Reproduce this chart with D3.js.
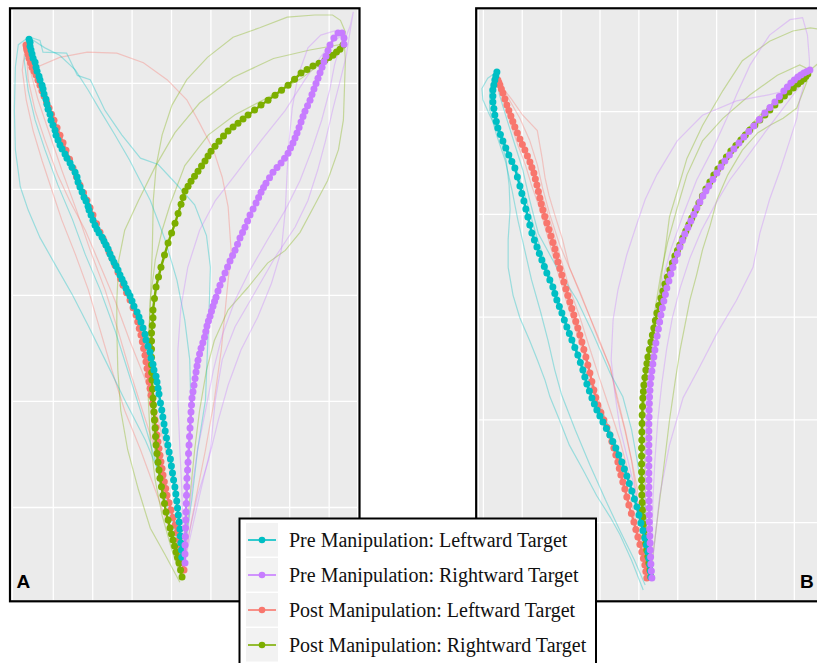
<!DOCTYPE html>
<html>
<head>
<meta charset="utf-8">
<script src="https://cdn.jsdelivr.net/npm/d3@7"></script>
<style>
  body { margin: 0; background: #fff; }
  svg { display: block; }
</style>
</head>
<body>
<svg id="chart" width="817" height="663"></svg>
<script>
// legend order of the four conditions
var conditions = ["Pre Manipulation: Leftward Target", "Pre Manipulation: Rightward Target",
                  "Post Manipulation: Leftward Target", "Post Manipulation: Rightward Target"];
var colors = ["#00BFC4", "#C77CFF", "#F8766D", "#7CAE00"];

// grid breaks (screen px of the recording)
var xBreaksA = [-120, -80, -40, 0, 40, 80, 120, 160];
var yBreaksA = [100, 200, 300, 400, 500];
var xBreaksB = [-160, -120, -80, -40, 0, 40, 80, 120, 160];
var yBreaksB = [100, 200, 300, 400, 500];

// ---- panel A : mean trajectories [x, y], start -> target ----
var meanA_preLeft = [[11,52.7],[10.7,59.4],[10,66],[9.5,72.6],[9,79.2],[8.3,85.8],[7.4,92.4],[6.6,99],[5.8,105.6],[4.9,112.2],[3.9,118.8],[2.6,125.4],[1.5,132],[0.4,138.6],[-0.6,145.2],[-1.9,151.8],[-3.2,158.4],[-4.6,165],[-5.9,171.6],[-7.1,178.2],[-8.3,184.8],[-9.4,191.4],[-10.7,198],[-12.2,206.5],[-13.2,212.1],[-14.2,217.8],[-15.2,223.4],[-17.3,229.1],[-18.3,234.7],[-20.3,240.4],[-21.3,246.1],[-23.3,251.7],[-25.4,257.4],[-26.4,263],[-28.4,268.7],[-30.5,274.4],[-32.5,279.1],[-34.5,283.8],[-37.6,289.4],[-39.6,294.2],[-41.6,298.9],[-43.6,302.6],[-45.7,306.4],[-47.7,311.1],[-49.7,314.9],[-51.8,318.7],[-53.8,323.4],[-55.8,327.2],[-57.9,330.9],[-59.9,334.7],[-61.9,338.5],[-63.9,343.2],[-66,347],[-68,350.7],[-70,354.5],[-73.1,358.3],[-75.1,362],[-77.1,365.8],[-79.2,370.5],[-81.2,375.3],[-83.2,380],[-84.2,383.7],[-86.3,388.5],[-88.3,392.2],[-90.3,397],[-92.4,401.7],[-94.4,406.4],[-95.4,411.1],[-97.4,415.8],[-100.5,420.5],[-102.5,424.3],[-105.6,429],[-107.6,432.8],[-110.6,437.5],[-112.7,441.3],[-114.7,446],[-116.7,450.7],[-117.7,455.4],[-119.8,460.1],[-121.8,464.8],[-122.8,470.5],[-124.8,475.2],[-125.9,479.9],[-126.9,484.6],[-128.9,489.4],[-129.9,494.1],[-130.9,497.8],[-133,502.6],[-134,506.3],[-136,511],[-137,514.8],[-138,519.5],[-140,523.3],[-141.1,527.1],[-142.1,530.9],[-143.1,534.6],[-143.1,538.4],[-144.1,541.2]];

var meanA_preRight = [[14.2,47.1],[14.2,55.6],[14.2,64.1],[14.5,72.1],[14.7,80.1],[15,87.7],[15.2,95.2],[15.5,103.2],[15.7,111.2],[16,119.2],[16.2,127.2],[16.8,134.8],[17.3,142.3],[17.8,150.4],[18.3,158.4],[18.8,166.4],[19.3,174.4],[19.8,182],[20.3,189.5],[20.8,196.1],[21.3,202.7],[22.3,208.8],[23.3,214.9],[24.4,221.1],[25.4,227.2],[26.4,232.9],[27.4,238.5],[29,244.2],[30.5,249.8],[32.3,255],[34,260.2],[35.3,265.4],[36.5,270.6],[38,275.3],[39.6,280],[41.1,284.7],[42.6,289.4],[44.2,293.7],[45.7,297.9],[47.7,303.6],[49.7,309.2],[52.3,314.9],[54.8,320.6],[57.4,326.3],[59.9,331.9],[62.5,337.1],[65,342.2],[67.5,347.9],[70,353.6],[72.6,358.8],[75.1,363.9],[77.7,369.6],[80.2,375.3],[83.3,381],[86.3,386.6],[88.9,391.8],[91.4,396.9],[93.9,401.2],[96.4,405.4],[100,410.6],[103.5,415.8],[107.6,420.1],[111.7,424.3],[115.3,429],[118.8,433.7],[121.3,438.5],[123.8,443.2],[125.9,447.9],[127.9,452.6],[130,457.8],[132,463],[134,468.2],[136,473.3],[138.6,478.5],[141.1,483.7],[143.1,488.9],[145.1,494.1],[147.2,499.3],[149.2,504.4],[151.3,509.6],[153.3,514.8],[155.3,520],[157.3,525.2],[159.4,530.4],[161.4,535.6],[165.4,542.2],[169.5,546.9],[173.6,546.9],[175.6,542.2],[175.6,536.5]];

var meanA_postLeft = [[13.2,40.5],[12.2,47.5],[11.2,54.6],[9.6,61.7],[8.1,68.8],[6.1,75.8],[4.1,82.9],[2,90],[0,97.1],[-2,104.1],[-4.1,111.2],[-5.4,117.5],[-6.8,123.8],[-8.1,130.1],[-9.1,136.4],[-10.2,142.6],[-11.2,148.9],[-12.2,155.2],[-13.2,161.5],[-14.2,167.8],[-15.2,175],[-16.3,182.3],[-17.3,189.5],[-18.8,197.5],[-20.3,205.5],[-21.3,211.8],[-22.3,218.1],[-23.3,224.4],[-24.3,230.7],[-25.4,236.9],[-26.4,243.2],[-27.8,249.5],[-29.1,255.8],[-30.5,262.1],[-32.2,268.4],[-33.8,274.7],[-35.5,281],[-38.5,288],[-41.6,295.1],[-45.1,302.1],[-48.7,309.2],[-51.2,315.3],[-53.8,321.5],[-56.8,328.1],[-59.9,334.7],[-63,340.8],[-66,347],[-69,353.1],[-72.1,359.2],[-75.6,367.2],[-79.2,375.3],[-82.2,382.3],[-85.3,389.4],[-88.8,396.4],[-92.4,403.5],[-96,411.5],[-99.5,419.6],[-103,428],[-106.6,436.5],[-109.6,443.6],[-112.7,450.7],[-115.7,457.7],[-118.8,464.8],[-121.3,470.5],[-123.8,476.2],[-126.3,481.8],[-128.9,487.5],[-131,492.6],[-133,497.8],[-135,502.5],[-137,507.3],[-139,511],[-141.1,514.8],[-142.6,519],[-144.1,523.3],[-145.1,527],[-146.2,530.8],[-146.7,533.2],[-147.2,535.6]];

var meanA_postRight = [[11.2,33.9],[9.7,40.5],[8.1,47.1],[6.6,52.3],[5.1,57.5],[3.6,63.2],[2,68.8],[0.5,74.5],[-1,80.1],[-3,87.7],[-5.1,95.2],[-6.6,103.2],[-8.1,111.2],[-9.7,119.2],[-11.2,127.2],[-12.2,134.8],[-13.2,142.3],[-14.2,150.4],[-15.2,158.4],[-15.7,166.4],[-16.2,174.4],[-16.8,182],[-17.3,189.5],[-17.8,196.1],[-18.3,202.7],[-18.8,211.2],[-19.3,219.7],[-19.6,226.9],[-19.8,234.1],[-19.8,241.3],[-19.8,248.9],[-19.8,256.5],[-19.8,264],[-19,271.2],[-18.3,278.5],[-18.3,285.7],[-16.8,296.6],[-15.2,307.4],[-12.7,316.8],[-10.2,326.2],[-6.6,337.6],[-3,348.9],[0.6,358.3],[4.1,367.7],[7.2,376.7],[10.2,385.6],[12.2,391.8],[14.2,397.9],[17.3,402.6],[20.3,407.3],[23.9,412],[27.4,416.7],[31,421.5],[34.5,426.2],[37.6,430.9],[40.6,435.6],[44.7,440.3],[48.7,445],[53.3,449.8],[57.9,454.5],[63,458.3],[68,462],[73.1,465.8],[78.2,469.6],[84.8,474.3],[91.4,479],[98.5,483.7],[105.6,488.4],[112.2,493.1],[118.8,497.8],[125.4,503.5],[132,509.2],[138.1,512.5],[144.1,515.8],[150.2,518.6],[156.3,521.4],[160.4,523.8],[164.4,526.1],[168,529],[171.5,531.8],[174.6,535.6]];

// ---- panel A : single trials ----
var trialsA_preLeft = [
  [[-146,542],[-155,536],[-158,515],[-159,474],[-158,437],[-153,402],[-145,380],[-133,354],[-116,326],[-100,300],[-84,271],[-67,239],[-47,201],[-26,163],[-11,130],[1,97],[7,69],[12,44]],
  [[-143,543],[-133,540],[-130,529],[-106,528],[-95,507],[-82,503],[-67,474],[-50,451],[-31,429],[-13,423],[4,406],[24,385],[36,356],[40,326],[39,295],[37,248],[35,201],[27,154],[21,106],[15,69],[12,44]],
  [[-143,542],[-128,533],[-113,526],[-97,512],[-84,493],[-72,474],[-57,451],[-42,427],[-21,389],[-6,352],[6,314],[14,276],[19,239],[20,201],[19,163],[17,125],[15,88],[13,59],[12,44]],
  [[-145,538],[-149,521],[-145,493],[-138,465],[-128,437],[-115,404],[-100,371],[-87,338],[-72,305],[-57,267],[-44,229],[-31,191],[-19,154],[-8,116],[2,83],[9,59],[12,44]]
];
var trialsA_preRight = [
  [[13,45],[17,78],[21,116],[27,154],[35,191],[43,229],[52,262],[65,295],[80,323],[98,352],[116,380],[131,408],[143,437],[153,465],[161,493],[166,517],[172,536],[177,545]],
  [[13,45],[19,78],[27,111],[38,144],[48,182],[58,215],[71,248],[88,279],[102,311],[112,342],[116,380],[118,418],[120,446],[123,476],[129,507],[139,533],[152,545],[166,549],[175,544]],
  [[13,45],[12,78],[11,116],[9,154],[7,201],[7,248],[10,288],[17,326],[29,361],[45,389],[65,413],[91,445],[116,474],[136,503],[153,526],[166,540],[174,545]],
  [[13,45],[21,78],[29,111],[40,154],[45,201],[52,239],[65,270],[85,302],[106,336],[126,364],[139,389],[149,418],[157,446],[164,474],[172,503],[178,526],[182,550],[185,567],[182,554],[177,542]]
];
var trialsA_postLeft = [
  [[-147,536],[-143,521],[-133,516],[-113,524],[-85,529],[-55,528],[-28,519],[-4,503],[16,484],[29,462],[43,437],[52,411],[58,383],[61,342],[56,295],[51,248],[44,201],[35,154],[25,107],[18,73],[13,42]],
  [[-148,533],[-151,512],[-147,484],[-140,455],[-131,427],[-121,399],[-111,371],[-97,338],[-84,305],[-72,267],[-60,229],[-47,191],[-31,154],[-16,116],[-3,83],[7,59],[13,42]],
  [[-146,535],[-143,512],[-135,484],[-123,451],[-111,418],[-96,380],[-82,342],[-67,305],[-54,267],[-42,229],[-29,191],[-16,154],[-6,116],[4,83],[10,59],[13,42]],
  [[-147,536],[-145,503],[-138,474],[-128,446],[-115,413],[-103,389],[-87,361],[-72,328],[-57,295],[-42,257],[-26,220],[-13,182],[-3,144],[5,107],[10,73],[13,42]]
];
var trialsA_postRight = [
  [[10,34],[1,59],[-9,92],[-16,125],[-21,163],[-23,201],[-23,248],[-21,295],[-19,342],[-18,389],[-15,422],[-9,451],[1,479],[16,503],[37,524],[63,543],[90,552],[118,562],[146,564],[164,564],[172,559],[177,548],[175,536]],
  [[9,29],[-6,55],[-21,80],[-33,116],[-44,154],[-51,191],[-54,229],[-55,267],[-55,295],[-53,333],[-47,361],[-33,389],[-16,421],[4,453],[29,481],[63,505],[104,523],[141,531],[177,537]],
  [[12,36],[15,69],[19,107],[24,154],[29,191],[36,229],[44,257],[58,286],[78,307],[98,330],[116,342],[131,359],[146,385],[159,408],[170,437],[175,465],[176,493],[177,521],[176,536]],
  [[11,33],[5,59],[-3,88],[-11,121],[-17,158],[-21,201],[-23,248],[-21,295],[-16,333],[-9,361],[-1,385],[14,422],[38,451],[65,470],[98,486],[132,504],[159,523],[174,535]]
];

// ---- panel B : mean trajectories ----
var meanB_preLeft = [[12.9,46.7],[12.4,52.6],[11.8,58.4],[10.8,64.7],[9.8,71],[8.3,77.8],[6.7,84.6],[4.7,91.9],[2.6,99.2],[0.6,107],[-1.5,114.8],[-4.1,122.6],[-6.7,130.4],[-9.3,137.7],[-11.8,145],[-14.4,151.8],[-17,158.6],[-20.1,165.4],[-23.2,172.2],[-26.3,178.5],[-29.3,184.8],[-32.9,191.2],[-36.5,197.5],[-39.6,203.4],[-42.7,209.2],[-45.3,215],[-47.8,220.8],[-50.4,227.7],[-53,234.5],[-55.1,241.3],[-57.1,248.1],[-59.7,255.4],[-62.3,262.7],[-65.4,270],[-68.4,277.3],[-71,283.6],[-73.6,289.9],[-76.2,296.8],[-78.7,303.6],[-81.3,309.9],[-83.9,316.2],[-86,322.5],[-88,328.8],[-91.1,335.7],[-94.2,342.5],[-96.8,348.8],[-99.3,355.1],[-101.9,361.5],[-104.4,367.8],[-107,374.6],[-109.6,381.4],[-111.7,389.2],[-113.7,397],[-115.8,404.8],[-117.8,412.5],[-119.9,419.8],[-121.9,427.1],[-124.5,435.9],[-127.1,444.6],[-130.2,451],[-133.3,457.3],[-136.4,464.1],[-139.4,470.9],[-142,477.3],[-144.6,483.6],[-146.2,489.9],[-147.7,496.2],[-148.7,502.6],[-149.7,508.9],[-149.7,514.7],[-149.7,520.5],[-148.7,525.4],[-147.7,530.3],[-146.7,534.2],[-145.6,538]];

var meanB_preRight = [[13.9,45.7],[13.4,52.5],[12.9,59.3],[12.6,66.1],[12.3,72.9],[12.1,79.8],[11.8,86.6],[11.6,93.4],[11.3,100.2],[11.2,107],[11.1,113.8],[11,120.6],[10.8,127.4],[10.8,134.3],[10.8,141.1],[10.8,147.9],[10.8,154.7],[10.8,161.5],[10.8,168.3],[10.8,175.1],[10.8,181.9],[10.8,188.7],[10.8,195.5],[11,202.4],[11.1,209.2],[11.3,215.5],[11.5,221.8],[11.9,228.2],[12.3,234.5],[13.1,240.8],[13.9,247.1],[14.9,253.9],[15.9,260.7],[17,267.6],[18,274.4],[19.3,281.2],[20.6,288],[21.9,294.8],[23.2,301.6],[24.7,308.4],[26.2,315.2],[27.8,321.6],[29.3,327.9],[31.4,334.7],[33.4,341.5],[35.5,347.8],[37.6,354.1],[40.2,361],[42.7,367.8],[45.3,374.1],[47.8,380.4],[50.9,386.8],[54,393.1],[57.1,399.4],[60.2,405.7],[63.3,411.6],[66.4,417.4],[69.5,422.3],[72.5,427.1],[76.7,433.5],[80.8,439.8],[84.9,445.6],[89,451.4],[93.7,457.3],[98.3,463.1],[103.5,469],[108.6,474.8],[113.7,480.2],[118.8,485.5],[124.5,491.9],[130.2,498.2],[135.4,503.6],[140.5,508.9],[145.1,514.3],[149.7,519.6],[153.3,523.5],[156.9,527.3],[160.5,530.3],[164.1,533.2],[167.2,535.2],[170.3,537.1],[173.4,538.6],[176.5,540]];

var meanB_postLeft = [[8.7,45.7],[7.7,52.1],[6.7,58.4],[5.2,64.7],[3.6,71],[1.6,78.3],[-0.5,85.6],[-2.6,92.9],[-4.6,100.2],[-7.2,108.5],[-9.8,116.7],[-11.9,124.5],[-13.9,132.3],[-16,139.1],[-18,145.9],[-19.6,152.3],[-21.1,158.6],[-23.2,165.4],[-25.2,172.2],[-27.3,178.5],[-29.3,184.8],[-32.4,192.1],[-35.5,199.4],[-38.6,206.7],[-41.7,214],[-43.8,221.3],[-45.8,228.6],[-47.9,236.9],[-49.9,245.2],[-52,253],[-54,260.7],[-56.1,268],[-58.1,275.3],[-60.2,282.2],[-62.3,289],[-64.4,295.3],[-66.4,301.6],[-68.5,308],[-70.5,314.3],[-72.6,320.6],[-74.6,326.9],[-76.7,333.7],[-78.7,340.5],[-80.8,346.9],[-82.8,353.2],[-84.4,359.5],[-85.9,365.8],[-88,372.2],[-90,378.5],[-92.1,384.8],[-94.2,391.1],[-96.3,397.5],[-98.3,403.8],[-99.9,409.6],[-101.4,415.4],[-102.9,421.8],[-104.4,428.1],[-106,434],[-107.5,439.8],[-109.6,445.2],[-111.6,450.5],[-114.2,456.3],[-116.8,462.1],[-119.4,467.5],[-121.9,472.9],[-124.5,478.7],[-127.1,484.5],[-129.2,489.9],[-131.2,495.2],[-133.3,500.6],[-135.3,505.9],[-137.4,511.8],[-139.4,517.6],[-141,521.5],[-142.5,525.4],[-143.6,527.9],[-144.6,530.3]];

var meanB_postRight = [[12.9,46.7],[11.9,53.5],[10.8,60.3],[9.8,66.6],[8.7,72.9],[7.7,79.3],[6.7,85.6],[5.9,91.9],[5.1,98.2],[4.6,105.1],[4.1,111.9],[3.9,119.2],[3.6,126.5],[3.5,133.8],[3.3,141.1],[3.3,148.9],[3.3,156.6],[3.3,164.4],[3.3,172.2],[3.5,180],[3.6,187.8],[3.8,196.1],[3.9,204.3],[4.3,212.6],[4.6,220.8],[5.2,227.2],[5.7,233.5],[6.7,240.8],[7.7,248.1],[8.8,254.4],[9.8,260.7],[11.4,268],[12.9,275.3],[14.4,282.2],[15.9,289],[17.5,296.3],[19,303.6],[21.1,310.9],[23.2,318.1],[25.3,325],[27.3,331.8],[29.9,338.6],[32.4,345.4],[35,352.2],[37.6,359],[40.2,364.4],[42.7,369.7],[45.8,376.5],[48.9,383.3],[52,389.7],[55,396],[58.7,403.3],[62.3,410.6],[65.9,417.4],[69.5,424.2],[73.6,431],[77.7,437.8],[81.8,443.7],[85.9,449.5],[90.6,455.4],[95.2,461.2],[100.4,466.6],[105.5,471.9],[110.1,476.8],[114.7,481.6],[119.9,486.5],[125,491.3],[130.2,496.2],[135.3,501.1],[140.5,506],[145.6,510.8],[150.3,514.7],[154.9,518.6],[159.5,522.5],[164.1,526.4],[167.2,528.8],[170.3,531.2],[172.4,533.7],[174.4,536.1]];

// ---- panel B : single trials ----
var trialsB_preLeft = [
  [[-146,538],[-155,532],[-161,522],[-160,511],[-153,496],[-143,477],[-136,452],[-133,428],[-132,404],[-134,375],[-134,348],[-129,321],[-122,299],[-112,277],[-104,258],[-96,238],[-91,222],[-81,199],[-71,175],[-57,151],[-43,126],[-29,105],[-19,88],[-7,63],[5,34]],
  [[-146,537],[-143,516],[-135,491],[-127,467],[-119,443],[-112,414],[-103,381],[-84,348],[-63,316],[-47,284],[-29,245],[-16,222],[-7,190],[-1,159],[5,122],[9,92],[12,63],[13,46]],
  [[-147,537],[-153,521],[-153,501],[-146,477],[-137,452],[-130,423],[-124,394],[-117,365],[-110,336],[-101,306],[-93,277],[-86,248],[-79,224],[-65,190],[-50,156],[-34,122],[-19,92],[-4,63],[7,39]],
  [[-147,537],[-150,516],[-147,491],[-137,467],[-127,448],[-120,428],[-114,409],[-105,379],[-95,350],[-85,324],[-76,299],[-65,272],[-53,243],[-43,219],[-31,194],[-21,170],[-11,143],[-2,117],[6,88],[11,63],[12,46]]
];
var trialsB_preRight = [
  [[13,46],[7,83],[-2,126],[-11,161],[-19,192],[-24,224],[-28,258],[-26,297],[-21,326],[-12,360],[-2,389],[7,414],[19,438],[40,471],[66,496],[101,510],[135,516],[161,522],[177,535]],
  [[13,46],[17,83],[22,126],[32,175],[46,221],[63,251],[81,284],[101,316],[118,348],[125,381],[135,414],[146,443],[156,472],[163,493],[166,511],[171,528],[176,540]],
  [[13,46],[10,83],[7,122],[6,160],[7,199],[10,238],[14,272],[19,306],[25,336],[34,367],[46,399],[60,433],[77,464],[91,493],[101,516],[115,545],[135,574],[156,589],[169,591],[174,574],[176,550],[176,540]],
  [[13,46],[14,83],[15,122],[17,160],[20,199],[24,234],[29,268],[35,299],[43,328],[53,357],[65,384],[79,409],[94,433],[113,457],[130,479],[146,499],[161,518],[177,538]]
];
var trialsB_postLeft = [
  [[-145,530],[-139,522],[-130,511],[-119,496],[-104,481],[-99,454],[-96,435],[-92,418],[-86,399],[-78,375],[-71,348],[-60,324],[-50,300],[-40,275],[-29,251],[-22,219],[-14,190],[-7,160],[-2,126],[3,102],[5,78],[8,46]],
  [[-145,530],[-136,511],[-128,489],[-120,467],[-112,447],[-103,428],[-96,409],[-88,384],[-80,357],[-71,328],[-60,299],[-50,269],[-40,240],[-29,209],[-19,180],[-11,151],[-4,122],[2,92],[6,68],[8,46]],
  [[-145,530],[-139,511],[-132,489],[-124,467],[-116,447],[-110,428],[-101,404],[-93,377],[-84,347],[-75,318],[-65,289],[-55,260],[-45,231],[-34,201],[-24,172],[-14,143],[-6,114],[1,88],[6,63],[8,46]],
  [[-145,530],[-134,513],[-122,493],[-112,472],[-104,448],[-98,423],[-91,399],[-81,370],[-68,341],[-55,311],[-42,282],[-29,250],[-21,219],[-13,188],[-6,156],[1,122],[5,88],[8,46]]
];
var trialsB_postRight = [
  [[12,46],[9,83],[7,122],[7,160],[9,199],[12,238],[15,272],[19,300],[22,326],[25,348],[29,375],[32,397],[40,422],[50,454],[66,486],[87,520],[107,549],[135,568],[159,578],[177,581],[192,579],[197,564],[187,548],[177,540]],
  [[12,46],[8,83],[5,122],[4,160],[5,199],[8,238],[12,272],[17,306],[23,341],[30,372],[40,406],[50,438],[66,471],[87,493],[115,516],[143,535],[166,545],[177,540]],
  [[12,46],[17,83],[22,122],[27,160],[32,199],[38,238],[43,268],[48,292],[53,316],[60,341],[66,365],[74,389],[81,414],[92,438],[107,462],[123,479],[135,486],[149,493],[163,503],[174,530]],
  [[12,46],[7,83],[4,122],[3,160],[4,199],[7,234],[12,268],[18,297],[25,324],[33,353],[43,377],[55,401],[69,425],[86,451],[104,474],[125,496],[146,514],[163,525],[174,534]]
];

var svg = d3.select("#chart");

var panels = [
  { label: "A", xDomain: [-160.4, 188.8], yDomain: [12.3, 568.7], xRange: [13, 357], yRange: [600, 10],
    xBreaks: xBreaksA, yBreaks: yBreaksA, frame: [10, 8.3, 349.5, 593], labelX: 16.5,
    means: [meanA_preLeft, meanA_preRight, meanA_postLeft, meanA_postRight],
    trials: [trialsA_preLeft, trialsA_preRight, trialsA_postLeft, trialsA_postRight] },
  { label: "B", xDomain: [-164, 190], yDomain: [24.3, 598.4], xRange: [479, 823], yRange: [600, 10],
    xBreaks: xBreaksB, yBreaks: yBreaksB, frame: [476.2, 8.3, 352, 593], labelX: 800,
    means: [meanB_preLeft, meanB_preRight, meanB_postLeft, meanB_postRight],
    trials: [trialsB_preLeft, trialsB_preRight, trialsB_postLeft, trialsB_postRight] }
];

// ggplot draws the groups in factor order: post-left, post-right, pre-left, pre-right
var drawOrder = [2, 3, 0, 1];

panels.forEach(function(p) {
  var x = d3.scaleLinear().domain(p.xDomain).range(p.xRange);
  var y = d3.scaleLinear().domain(p.yDomain).range(p.yRange);
  var w = p.xRange[1] - p.xRange[0], h = p.yRange[0] - p.yRange[1];
  var g = svg.append("g");

  g.append("clipPath").attr("id", "clip" + p.label)
    .append("rect").attr("x", p.xRange[0]).attr("y", p.yRange[1]).attr("width", w).attr("height", h);

  g.append("rect")
    .attr("x", p.xRange[0]).attr("y", p.yRange[1])
    .attr("width", w).attr("height", h)
    .attr("fill", "#EBEBEB");

  // grid lines
  var gx = g.append("g")
    .attr("transform", "translate(0," + p.yRange[0] + ")")
    .call(d3.axisBottom(x).tickValues(p.xBreaks).tickSize(-h).tickFormat(""));
  var gy = g.append("g")
    .attr("transform", "translate(" + p.xRange[0] + ",0)")
    .call(d3.axisLeft(y).tickValues(p.yBreaks).tickSize(-w).tickFormat(""));
  [gx, gy].forEach(function(a) {
    a.select(".domain").remove();
    a.selectAll(".tick line").attr("stroke", "#fff").attr("stroke-width", 1.3);
  });

  var line = d3.line().x(function(d) { return x(d[0]); }).y(function(d) { return y(d[1]); });
  var plot = g.append("g").attr("clip-path", "url(#clip" + p.label + ")");

  // individual trials, faint
  drawOrder.forEach(function(k) {
    p.trials[k].forEach(function(tr) {
      plot.append("path")
        .attr("d", line(tr))
        .attr("fill", "none")
        .attr("stroke", colors[k])
        .attr("stroke-opacity", 0.35)
        .attr("stroke-width", 1.2);
    });
  });

  // mean trajectories: path + points
  drawOrder.forEach(function(k) {
    var m = p.means[k];
    var mg = plot.append("g");
    mg.append("path")
      .attr("d", line(m))
      .attr("fill", "none")
      .attr("stroke", colors[k])
      .attr("stroke-width", 2.4);
    mg.selectAll("circle")
      .data(m)
      .enter().append("circle")
      .attr("cx", function(d) { return x(d[0]); })
      .attr("cy", function(d) { return y(d[1]); })
      .attr("r", 3.5)
      .attr("fill", colors[k]);
  });

  g.append("rect")
    .attr("x", p.frame[0]).attr("y", p.frame[1])
    .attr("width", p.frame[2]).attr("height", p.frame[3])
    .attr("fill", "none").attr("stroke", "#000").attr("stroke-width", 2.2);

  g.append("text")
    .attr("x", p.labelX).attr("y", 588)
    .style("font-family", "'Liberation Sans', Arial, sans-serif")
    .style("font-weight", "bold")
    .style("font-size", "19px")
    .text(p.label);
});

// legend
var legend = svg.append("g");
legend.append("rect")
  .attr("x", 239.5).attr("y", 518.5)
  .attr("width", 356.5).attr("height", 170)
  .attr("fill", "#fff").attr("stroke", "#000").attr("stroke-width", 2);

conditions.forEach(function(c, i) {
  var cy = 540 + i * 35;
  legend.append("rect")
    .attr("x", 246).attr("y", cy - 17)
    .attr("width", 32).attr("height", 33.5)
    .attr("fill", "#F2F2F2");
  legend.append("line")
    .attr("x1", 248).attr("x2", 276)
    .attr("y1", cy).attr("y2", cy)
    .attr("stroke", colors[i]).attr("stroke-width", 1.6);
  legend.append("circle")
    .attr("cx", 262).attr("cy", cy).attr("r", 3.3)
    .attr("fill", colors[i]);
  legend.append("text")
    .attr("x", 289).attr("y", cy + 7)
    .style("font-family", "'Liberation Serif', 'Times New Roman', serif")
    .style("font-size", "20px")
    .attr("fill", "#111")
    .text(c);
});
</script>
</body>
</html>
